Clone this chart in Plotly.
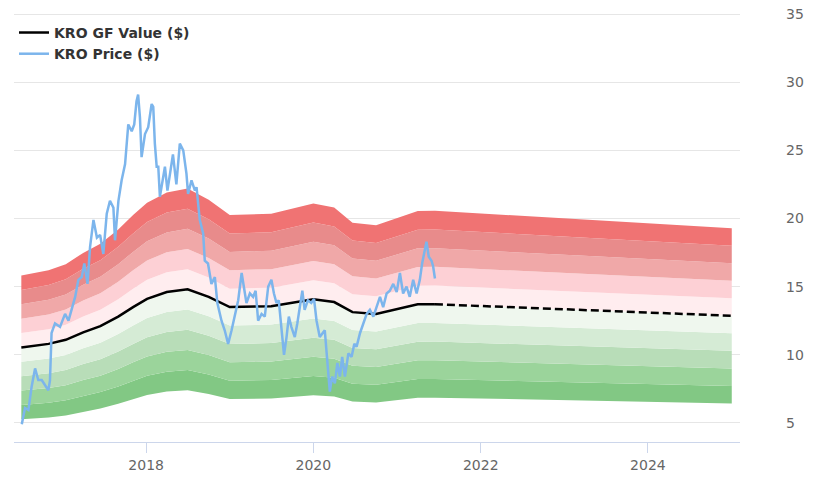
import plotly.graph_objects as go

# GF Value (solid part, then projection)
gf_dates = [
    "2016-07-05", "2016-09-01", "2016-11-01", "2017-01-15", "2017-04-01",
    "2017-06-15", "2017-09-01", "2017-11-05", "2018-01-05", "2018-04-01",
    "2018-07-01", "2018-10-01", "2019-01-01", "2019-07-01", "2020-01-01",
    "2020-04-01", "2020-06-20", "2020-10-01", "2021-04-01", "2021-06-15",
]
gf_values = [
    10.54, 10.65, 10.8, 11.1, 11.65,
    12.1, 12.8, 13.5, 14.1, 14.6,
    14.8, 14.25, 13.5, 13.57, 14.07,
    13.87, 13.13, 13.0, 13.7, 13.71,
]
proj_dates = ["2021-06-15", "2025-01-01"]
proj_values = [13.71, 12.86]

# band multipliers around GF Value (bottom to top)
band_mult = [0.5, 0.6, 0.7, 0.8, 0.9, 1.0, 1.1, 1.2, 1.3, 1.4, 1.5]
band_colors = [
    "#82c884", "#9bd49b", "#b8ddb8", "#d5ebd5", "#eff7ee",
    "#ffedef", "#fdd0d5", "#f0a8a8", "#e88b8b", "#f07373",
]

price_dates = [
    "2016-07-07", "2016-07-21", "2016-08-05", "2016-08-19", "2016-09-03",
    "2016-09-17", "2016-10-02", "2016-10-16", "2016-10-31", "2016-11-07",
    "2016-11-14", "2016-11-29", "2016-12-21", "2017-01-12", "2017-01-27",
    "2017-02-11", "2017-02-25", "2017-03-11", "2017-03-26", "2017-04-06",
    "2017-04-14", "2017-04-20", "2017-05-01", "2017-05-16", "2017-05-31",
    "2017-06-14", "2017-06-28", "2017-07-13", "2017-07-27", "2017-08-11",
    "2017-08-18", "2017-09-02", "2017-09-16", "2017-10-01", "2017-10-15",
    "2017-10-30", "2017-11-10", "2017-11-20", "2017-11-27", "2017-12-05",
    "2017-12-12", "2017-12-27", "2018-01-10", "2018-01-25", "2018-02-01",
    "2018-02-08", "2018-02-16", "2018-02-23", "2018-03-02", "2018-03-16",
    "2018-03-24", "2018-04-04", "2018-04-18", "2018-04-28", "2018-05-13",
    "2018-05-28", "2018-06-12", "2018-06-26", "2018-07-03", "2018-07-18",
    "2018-08-02", "2018-08-09", "2018-08-23", "2018-09-07", "2018-09-14",
    "2018-09-28", "2018-10-13", "2018-10-28", "2018-11-08", "2018-11-26",
    "2018-12-10", "2018-12-25", "2019-01-09", "2019-01-23", "2019-02-07",
    "2019-02-22", "2019-03-05", "2019-03-15", "2019-03-30", "2019-04-13",
    "2019-04-24", "2019-05-05", "2019-05-20", "2019-06-03", "2019-06-18",
    "2019-07-02", "2019-07-13", "2019-07-24", "2019-08-03", "2019-08-15",
    "2019-08-26", "2019-09-06", "2019-09-16", "2019-09-27", "2019-10-12",
    "2019-10-23", "2019-11-02", "2019-11-14", "2019-11-24", "2019-12-08",
    "2019-12-23", "2020-01-04", "2020-01-15", "2020-01-29", "2020-02-20",
    "2020-03-03", "2020-03-13", "2020-03-23", "2020-04-04", "2020-04-15",
    "2020-04-26", "2020-05-06", "2020-05-18", "2020-06-02", "2020-06-16",
    "2020-06-28", "2020-07-08", "2020-07-23", "2020-08-06", "2020-08-21",
    "2020-09-04", "2020-09-19", "2020-10-03", "2020-10-18", "2020-11-01",
    "2020-11-16", "2020-11-30", "2020-12-15", "2020-12-30", "2021-01-13",
    "2021-01-27", "2021-02-11", "2021-02-25", "2021-03-12", "2021-03-27",
    "2021-04-10", "2021-04-20", "2021-05-02", "2021-05-09", "2021-05-19",
    "2021-05-31", "2021-06-07", "2021-06-15",
]
price_values = [
    4.9, 6.1, 5.95, 7.66, 9.0,
    8.15, 8.15, 7.8, 7.4, 8.1,
    11.6, 12.3, 12.05, 13.0, 12.5,
    13.4, 14.25, 15.5, 15.7, 16.7,
    15.96, 15.2, 17.9, 19.9, 18.6,
    18.8, 17.4, 20.35, 21.3, 20.8,
    18.4, 21.3, 22.8, 24.0, 26.9,
    26.4, 26.9, 28.6, 29.1, 27.4,
    24.5, 26.2, 26.7, 28.4, 28.2,
    25.5, 23.8, 23.8, 21.6, 23.0,
    23.8, 22.05, 23.5, 24.7, 22.5,
    25.5, 25.0, 23.3, 21.8, 22.8,
    22.05, 22.3, 19.9, 18.9, 16.9,
    16.7, 15.2, 15.7, 13.8, 12.5,
    11.8, 10.8, 11.8, 12.8, 14.0,
    16.0, 15.0, 13.8, 14.5, 14.25,
    14.7, 12.5, 13.0, 12.8, 15.0,
    15.5, 14.5, 13.8, 14.0, 11.8,
    10.0, 11.3, 12.8, 12.05, 11.3,
    12.3, 13.3, 14.7, 13.3, 14.0,
    13.8, 14.1, 12.5, 11.3, 11.8,
    9.6, 7.3, 8.4, 7.9, 9.4,
    8.4, 9.85, 8.4, 10.1, 9.85,
    10.8, 10.6, 11.6, 12.3, 13.0,
    13.3, 12.8, 13.5, 14.25, 13.5,
    14.5, 14.7, 15.2, 14.6, 16.0,
    14.5, 15.0, 14.25, 15.5, 14.5,
    15.5, 16.7, 17.7, 18.3, 17.2,
    16.9, 16.5, 15.6,
]

y_ticks = [5, 10, 15, 20, 25, 30, 35]
x_ticks = ["2018-01-01", "2020-01-01", "2022-01-01", "2024-01-01"]
x_tick_labels = ["2018", "2020", "2022", "2024"]

fig = go.Figure()

# bands: full GF series incl. projection
band_dates = gf_dates + proj_dates[1:]
band_base = gf_values + proj_values[1:]
for i, m in enumerate(band_mult):
    fig.add_trace(go.Scatter(
        x=band_dates, y=[v * m for v in band_base],
        mode="lines", line=dict(width=0),
        fill="tonexty" if i > 0 else None,
        fillcolor=band_colors[i - 1] if i > 0 else None,
        showlegend=False, hoverinfo="skip",
    ))

fig.add_trace(go.Scatter(
    x=proj_dates, y=proj_values, mode="lines",
    line=dict(color="#000000", width=2.5, dash="8px,4px"),
    showlegend=False,
))
fig.add_trace(go.Scatter(
    x=gf_dates, y=gf_values, mode="lines", name="KRO GF Value ($)",
    line=dict(color="#000000", width=2.5),
))
fig.add_trace(go.Scatter(
    x=price_dates, y=price_values, mode="lines", name="KRO Price ($)",
    line=dict(color="#7cb5ec", width=2.5),
))

fig.update_layout(
    width=820, height=492,
    margin=dict(l=6, r=88, t=2, b=58),
    paper_bgcolor="white", plot_bgcolor="white",
    font=dict(family="DejaVu Sans", color="#666666", size=14),
    legend=dict(
        x=0.0, y=0.984, xanchor="left", yanchor="top",
        bgcolor="rgba(0,0,0,0)", traceorder="normal",
        font=dict(family="DejaVu Sans", size=14, color="#333333", weight="bold"),
        tracegroupgap=0,
    ),
)
fig.update_xaxes(
    type="date", range=["2016-06-03", "2025-02-06"],
    tickvals=x_ticks, ticktext=x_tick_labels,
    showgrid=False, showline=True, linecolor="#ccd6eb", linewidth=1,
    ticks="outside", ticklen=10, tickcolor="#ccd6eb",
    tickfont=dict(size=14, color="#666666"), zeroline=False,
    automargin=False,
)
fig.update_yaxes(
    range=[3.6, 35.3], side="right", tickvals=y_ticks,
    showgrid=True, gridcolor="#e6e6e6", gridwidth=1,
    zeroline=False, showline=False, ticks="",
    ticklabelstandoff=45, automargin=False, ticklabeloverflow="allow",
    tickfont=dict(size=14, color="#666666"),
)

fig.write_html("out.html")
